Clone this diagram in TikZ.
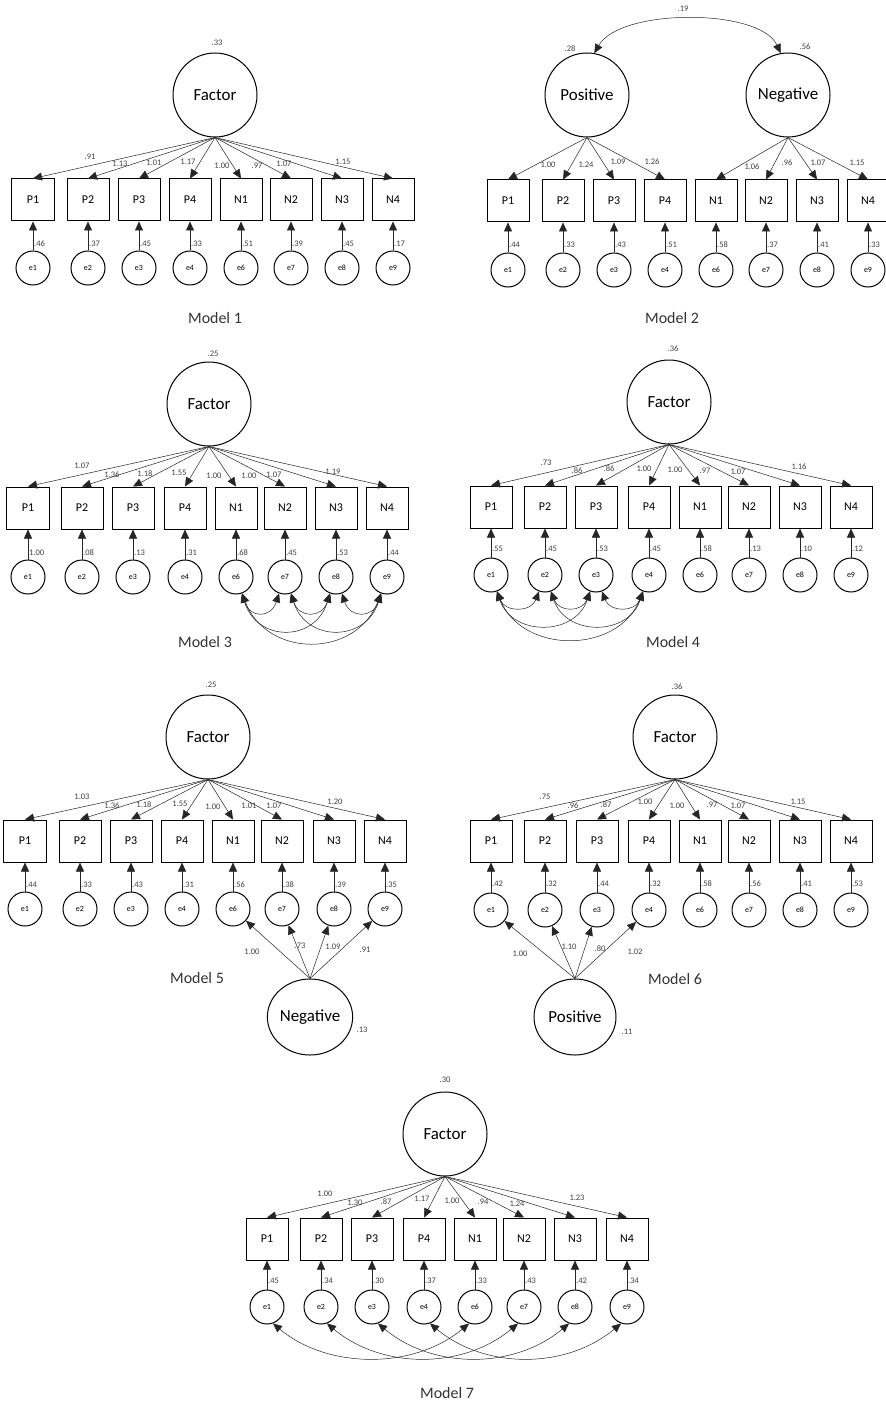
\documentclass[tikz,border=0pt]{standalone}
\usepackage{fontspec}
\setmainfont{Carlito}
\usetikzlibrary{arrows.meta,calc,shapes.geometric}
\tikzset{
  lat/.style={circle,draw,line width=1bp,minimum size=84bp,inner sep=0pt,font=\fontsize{17}{17}\selectfont},
  latb/.style={ellipse,draw,line width=1bp,minimum width=82bp,minimum height=76bp,inner sep=0pt,font=\fontsize{17}{17}\selectfont},
  obs/.style={rectangle,draw,line width=1bp,minimum size=42bp,inner sep=0pt,font=\fontsize{12}{12}\selectfont},
  err/.style={circle,draw,line width=1bp,minimum size=34bp,inner sep=0pt,font=\fontsize{8}{8}\selectfont},
  lbl/.style={font=\fontsize{8.5}{8.5}\selectfont,text=black!75,inner sep=0pt},
  ttl/.style={font=\fontsize{16}{16}\selectfont,text=black!80,inner sep=0pt},
  ld/.style={-{Triangle[length=9bp,width=8bp]},line width=0.5bp,draw=black!85},
  cov/.style={{Triangle[length=9bp,width=8bp]}-{Triangle[length=9bp,width=8bp]},line width=0.5bp,draw=black!85},
}
\newcommand\mkrow[5]{%
  \foreach \n/\ex/\xx/\ev in {#5}{
    \node[obs] (#1\n) at (\xx,#2) {\n};
    \node[err] (#1\ex) at (\xx,#3) {\ex};
    \draw[ld] (#1\ex) -- (#1\n);
    \node[lbl,anchor=west] at (\xx+1,#4) {\ev};
  }}
\newcommand\covc[4]{\draw[cov] (#1.-70) .. controls ($(#1.-70)+(#4,#3)$) and ($(#2.-110)+(-#4,#3)$) .. (#2.-110);}
\newcommand\lbls[1]{\foreach \xx/\yy/\tx in {#1}{\node[lbl] at (\xx,\yy) {\tx};}}
\begin{document}
\begin{tikzpicture}[x=1bp,y=-1bp]
\fill[white] (0,0) rectangle (885,1405);
\useasboundingbox (0,0) rectangle (885,1405);

% ---------------- Model 1
\node[lat] (m1F) at (215,95) {Factor};
\node[lbl] (m1v) at (217,43) {.33};
\mkrow{m1}{200}{268}{244}{P1/e1/33/.46, P2/e2/88/.37, P3/e3/139/.45, P4/e4/190/.33, N1/e6/241/.51, N2/e7/291/.39, N3/e8/342/.45, N4/e9/393/.17}
\foreach \n in {P1,P2,P3,P4,N1,N2,N3,N4}{\draw[ld] (m1F.south) -- (m1\n.north);}
\lbls{90/157/.91, 120/164/1.13, 154/163/1.01, 188/162/1.17, 222/166/1.00, 257/166/.97, 284/164/1.07, 343/162/1.15}
\node[ttl] (m1t) at (215,318) {Model 1};

% ---------------- Model 2
\node[lat] (m2pos) at (587,95) {Positive};
\node[lat] (m2neg) at (788,95) {Negative};
\node[lbl] (m2vp) at (570,49) {.28};
\node[lbl] (m2vn) at (805,47) {.56};
\node[lbl] (m2c) at (683,9) {.19};
\draw[cov] (m2pos.80) .. controls (620,8) and (760,8) .. (m2neg.100);
\mkrow{m2}{201}{270}{245}{P1/e1/508/.44, P2/e2/563/.33, P3/e3/614/.43, P4/e4/665/.51, N1/e6/716/.58, N2/e7/766/.37, N3/e8/817/.41, N4/e9/868/.33}
\foreach \n in {P1,P2,P3,P4}{\draw[ld] (m2pos.south) -- (m2\n.north);}
\foreach \n in {N1,N2,N3,N4}{\draw[ld] (m2neg.south) -- (m2\n.north);}
\lbls{548/165/1.00, 586/165/1.24, 618/162/1.09, 652/162/1.26, 752/167/1.06, 787/163/.96, 818/163/1.07, 857/163/1.15}
\node[ttl] (m2t) at (672,318) {Model 2};

% ---------------- Model 3
\node[lat] (m3F) at (209,404) {Factor};
\node[lbl] (m3v) at (213,354) {.25};
\mkrow{m3}{508}{577}{553}{P1/e1/28/1.00, P2/e2/82/.08, P3/e3/133/.13, P4/e4/185/.31, N1/e6/236/.68, N2/e7/285/.45, N3/e8/336/.53, N4/e9/387/.44}
\foreach \n in {P1,P2,P3,P4,N1,N2,N3,N4}{\draw[ld] (m3F.south) -- (m3\n.north);}
\lbls{82/466/1.07, 112/475/1.36, 145/474/1.18, 179/473/1.55, 214/476/1.00, 249/476/1.00, 274/475/1.07, 333/472/1.19}
\covc{m3e6}{m3e7}{25}{8}
\covc{m3e7}{m3e8}{25}{8}
\covc{m3e8}{m3e9}{25}{8}
\covc{m3e6}{m3e8}{49}{15}
\covc{m3e7}{m3e9}{49}{15}
\covc{m3e6}{m3e9}{65}{25}
\node[ttl] (m3t) at (205,642) {Model 3};

% ---------------- Model 4
\node[lat] (m4F) at (669,402) {Factor};
\node[lbl] (m4v) at (673,349) {.36};
\mkrow{m4}{507}{575}{549}{P1/e1/491/.55, P2/e2/545/.45, P3/e3/596/.53, P4/e4/649/.45, N1/e6/700/.58, N2/e7/749/.13, N3/e8/800/.10, N4/e9/851/.12}
\foreach \n in {P1,P2,P3,P4,N1,N2,N3,N4}{\draw[ld] (m4F.south) -- (m4\n.north);}
\lbls{546/463/.73, 577/471/.86, 609/469/.86, 644/469/1.00, 675/470/1.00, 705/471/.97, 738/472/1.07, 799/467/1.16}
\covc{m4e1}{m4e2}{21}{8}
\covc{m4e2}{m4e3}{21}{8}
\covc{m4e3}{m4e4}{21}{8}
\covc{m4e1}{m4e3}{45}{15}
\covc{m4e2}{m4e4}{45}{15}
\covc{m4e1}{m4e4}{63}{25}
\node[ttl] (m4t) at (673,642) {Model 4};

% ---------------- Model 5
\node[lat] (m5F) at (208,737) {Factor};
\node[lbl] (m5v) at (211,685) {.25};
\mkrow{m5}{841}{909}{885}{P1/e1/25/.44, P2/e2/80/.33, P3/e3/131/.43, P4/e4/182/.31, N1/e6/233/.56, N2/e7/282/.38, N3/e8/334/.39, N4/e9/385/.35}
\foreach \n in {P1,P2,P3,P4,N1,N2,N3,N4}{\draw[ld] (m5F.south) -- (m5\n.north);}
\lbls{82/797/1.03, 112/806/1.36, 144/805/1.18, 180/804/1.55, 213/807/1.00, 249/806/1.01, 274/806/1.07, 335/802/1.20}
\node[latb] (m5neg) at (310,1017) {Negative};
\node[lbl] (m5nv) at (362,1030) {.13};
\foreach \e in {e6,e7,e8,e9}{\draw[ld] (m5neg.north) -- (m5\e);}
\lbls{252/952/1.00, 300/946/.73, 333/947/1.09, 365/950/.91}
\node[ttl] (m5t) at (197,978) {Model 5};

% ---------------- Model 6
\node[lat] (m6F) at (675,737) {Factor};
\node[lbl] (m6v) at (677,687) {.36};
\mkrow{m6}{841}{910}{884}{P1/e1/491/.42, P2/e2/545/.32, P3/e3/597/.44, P4/e4/649/.32, N1/e6/700/.58, N2/e7/749/.56, N3/e8/800/.41, N4/e9/851/.53}
\foreach \n in {P1,P2,P3,P4,N1,N2,N3,N4}{\draw[ld] (m6F.south) -- (m6\n.north);}
\lbls{545/797/.75, 573/806/.96, 606/805/.87, 645/802/1.00, 677/806/1.00, 712/805/.97, 738/806/1.07, 798/802/1.15}
\node[latb] (m6pos) at (575,1017) {Positive};
\node[lbl] (m6pv) at (627,1032) {.11};
\foreach \e in {e1,e2,e3,e4}{\draw[ld] (m6pos.north) -- (m6\e);}
\lbls{520/954/1.00, 569/947/1.10, 600/949/.80, 635/952/1.02}
\node[ttl] (m6t) at (675,979) {Model 6};

% ---------------- Model 7
\node[lat] (m7F) at (445,1134) {Factor};
\node[lbl] (m7v) at (445,1080) {.30};
\mkrow{m7}{1239}{1307}{1281}{P1/e1/267/.45, P2/e2/321/.34, P3/e3/372/.30, P4/e4/424/.37, N1/e6/475/.33, N2/e7/524/.43, N3/e8/575/.42, N4/e9/627/.34}
\foreach \n in {P1,P2,P3,P4,N1,N2,N3,N4}{\draw[ld] (m7F.south) -- (m7\n.north);}
\lbls{325/1194/1.00, 355/1203/1.30, 386/1202/.87, 422/1199/1.17, 452/1201/1.00, 483/1202/.94, 517/1204/1.24, 577/1198/1.23}
\covc{m7e1}{m7e6}{46}{55}
\covc{m7e2}{m7e7}{46}{55}
\covc{m7e3}{m7e8}{46}{55}
\covc{m7e4}{m7e9}{46}{55}
\node[ttl] (m7t) at (447,1393) {Model 7};
\end{tikzpicture}
\end{document}
